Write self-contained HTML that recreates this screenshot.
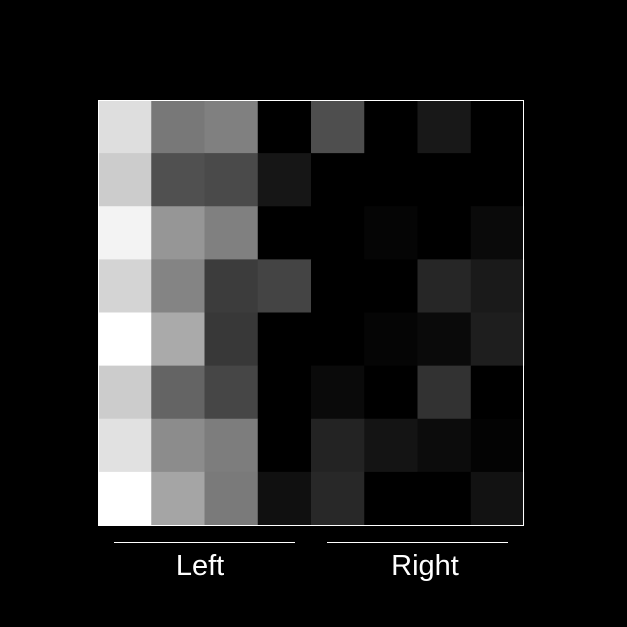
<!DOCTYPE html>
<html><head><meta charset="utf-8"><style>
html,body{margin:0;padding:0;background:#000;width:627px;height:627px;overflow:hidden}
svg{display:block}
</style></head><body>
<svg id="chart" width="627" height="627" xmlns="http://www.w3.org/2000/svg">
<rect x="0" y="0" width="627" height="627" fill="#000"/>
<g id="cells"></g>
<rect x="98.5" y="100.5" width="425" height="425" fill="none" stroke="#fff" stroke-width="1"/>
<line x1="114" y1="542.5" x2="295" y2="542.5" stroke="#fff" stroke-width="1"/>
<line x1="327" y1="542.5" x2="508" y2="542.5" stroke="#fff" stroke-width="1"/>
<text x="200" y="575" fill="#fff" font-family="Liberation Sans, sans-serif" font-size="29" text-anchor="middle">Left</text>
<text x="425" y="575" fill="#fff" font-family="Liberation Sans, sans-serif" font-size="29" text-anchor="middle">Right</text>
</svg>
<script>
const rowIds = [0,1,2,3,4,5,6,7];
const colIds = [0,1,2,3,4,5,6,7];
const values = [
 [222,120,128,0,78,0,24,0],
 [204,80,74,22,0,0,0,0],
 [243,150,128,0,0,5,0,10],
 [212,132,60,68,0,0,38,26],
 [255,170,56,0,0,5,10,30],
 [204,100,70,0,10,0,50,0],
 [225,140,125,0,35,20,12,3],
 [255,165,122,16,40,0,0,18]
];
const x0=98, y0=100, W=426, H=425;
const cw=W/colIds.length, ch=H/rowIds.length;
const xs=c=>x0+c*cw, ys=r=>y0+r*ch;
const g=document.getElementById('cells');
rowIds.forEach((r,ri)=>colIds.forEach((c,ci)=>{
  const v=values[ri][ci];
  const el=document.createElementNS('http://www.w3.org/2000/svg','rect');
  el.setAttribute('x',xs(ci)); el.setAttribute('y',ys(ri));
  el.setAttribute('width',cw+0.5); el.setAttribute('height',ch+0.5);
  el.setAttribute('fill',`rgb(${v},${v},${v})`);
  
  
  g.appendChild(el);
}));
</script>
</body></html>
